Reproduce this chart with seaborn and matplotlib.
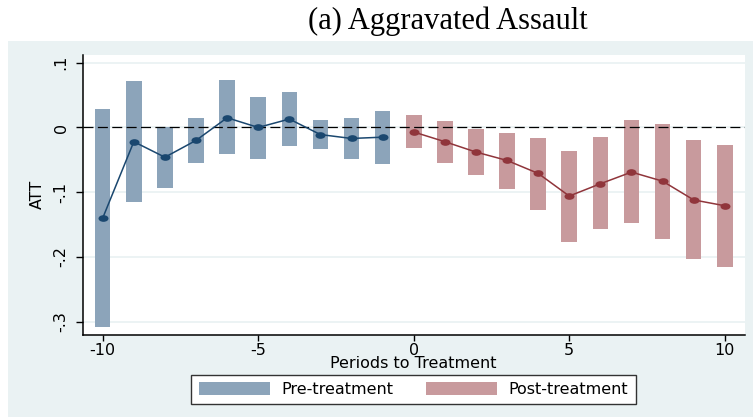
import numpy as np
import pandas as pd
import matplotlib
matplotlib.use("Agg")
import matplotlib.pyplot as plt
from matplotlib.path import Path
from matplotlib.patches import Rectangle, Patch
import seaborn as sns

# Event-study estimates (ATT) with 95% confidence bounds
pre_periods = [-10, -9, -8, -7, -6, -5, -4, -3, -2, -1]
pre_att = [-0.140, -0.022, -0.046, -0.020, 0.015, 0.000, 0.013, -0.011, -0.017, -0.015]
pre_lo = [-0.308, -0.115, -0.094, -0.055, -0.041, -0.049, -0.029, -0.034, -0.049, -0.056]
pre_hi = [0.028, 0.072, 0.000, 0.014, 0.073, 0.047, 0.055, 0.011, 0.014, 0.025]

post_periods = [0, 1, 2, 3, 4, 5, 6, 7, 8, 9, 10]
post_att = [-0.007, -0.022, -0.038, -0.051, -0.071, -0.106, -0.087, -0.069, -0.083, -0.112, -0.121]
post_lo = [-0.032, -0.055, -0.073, -0.095, -0.127, -0.177, -0.157, -0.147, -0.172, -0.203, -0.215]
post_hi = [0.019, 0.010, -0.003, -0.009, -0.017, -0.037, -0.015, 0.011, 0.005, -0.020, -0.027]

x_ticks = [-10, -5, 0, 5, 10]
x_tick_labels = ["-10", "-5", "0", "5", "10"]
y_ticks = [0.1, 0.0, -0.1, -0.2, -0.3]
y_tick_labels = [".1", "0", "-.1", "-.2", "-.3"]

title = "(a) Aggravated Assault"
x_label = "Periods to Treatment"
y_label = "ATT"
legend_labels = ["Pre-treatment", "Post-treatment"]

NAVY = "#1A476F"
MAROON = "#90353B"
NAVY_CI = "#8CA4BA"
MAROON_CI = "#C89A9D"
PANEL_BG = "#EAF2F3"
FS = 11.5

pre = pd.DataFrame({"period": pre_periods, "att": pre_att, "lo": pre_lo, "hi": pre_hi})
post = pd.DataFrame({"period": post_periods, "att": post_att, "lo": post_lo, "hi": post_hi})

sns.set_theme(style="white")
plt.rcParams["font.family"] = ["DejaVu Sans"]
plt.rcParams["axes.unicode_minus"] = False

W, H = 753, 417
fig = plt.figure(figsize=(W / 100, H / 100), dpi=100, facecolor="white")

# light panel behind the graph region
fig.patches.append(Rectangle((8 / W, 0), 1 - 8 / W, 1 - 41 / H, transform=fig.transFigure,
                             facecolor=PANEL_BG, edgecolor="none", zorder=-5))

left, right, top, bottom = 82.5, 745, 55, 334.5
ax = fig.add_axes([left / W, 1 - bottom / H, (right - left) / W, (bottom - top) / H])
ax.set_zorder(1)
ax.set_facecolor("white")

# confidence-interval bars
ax.bar(pre["period"], pre["hi"] - pre["lo"], bottom=pre["lo"], width=0.5,
       color=NAVY_CI, edgecolor="none", zorder=2)
ax.bar(post["period"], post["hi"] - post["lo"], bottom=post["lo"], width=0.5,
       color=MAROON_CI, edgecolor="none", zorder=2)

ax.axhline(0, color="black", lw=0.9, dashes=(8, 3.5), zorder=3)

# slightly wide oval marker
circ = Path.unit_circle()
oval = Path(circ.vertices * np.array([1.5, 1.0]), circ.codes)

sns.lineplot(data=pre, x="period", y="att", ax=ax, color=NAVY, lw=1.1,
             marker=oval, markersize=7.2, markeredgewidth=0, markerfacecolor=NAVY,
             zorder=4, legend=False)
sns.lineplot(data=post, x="period", y="att", ax=ax, color=MAROON, lw=1.1,
             marker=oval, markersize=7.2, markeredgewidth=0, markerfacecolor=MAROON,
             zorder=4, legend=False)

ax.set_xlim(-10.65, 10.65)
ax.set_ylim(-0.32, 0.112)
ax.set_xticks(x_ticks)
ax.set_xticklabels(x_tick_labels)
ax.set_yticks(y_ticks)
ax.set_yticklabels(y_tick_labels, rotation=90, va="center")

ax.yaxis.grid(True, color=PANEL_BG, lw=1.3)
ax.xaxis.grid(False)
ax.set_axisbelow(True)

for s in ["top", "right"]:
    ax.spines[s].set_visible(False)
for s in ["left", "bottom"]:
    ax.spines[s].set_color("black")
    ax.spines[s].set_linewidth(1.1)

ax.tick_params(axis="x", which="major", direction="out", length=4.5, width=1,
               color="black", pad=1.5, labelsize=FS, labelcolor="black")
ax.tick_params(axis="y", which="major", direction="out", length=5, width=1,
               color="black", pad=5, labelsize=FS, labelcolor="black")
ax.tick_params(bottom=True, left=True)

ax.set_xlabel(x_label, fontsize=FS, color="black", labelpad=-1)
ax.set_ylabel(y_label, fontsize=FS, color="black", labelpad=6)

handles = [Patch(facecolor=NAVY_CI, edgecolor="none"),
           Patch(facecolor=MAROON_CI, edgecolor="none")]
leg = fig.legend(handles, legend_labels, loc="center", ncol=2,
                 bbox_to_anchor=(413.5 / W, 1 - 389.7 / H), bbox_transform=fig.transFigure,
                 frameon=True, fancybox=False, framealpha=1,
                 prop={"family": "DejaVu Sans", "size": FS},
                 handlelength=4.45, handleheight=0.85, handletextpad=0.75,
                 columnspacing=2.0, borderpad=0.45, borderaxespad=0)
leg.get_frame().set_edgecolor("#333333")
leg.get_frame().set_linewidth(1.0)
leg.get_frame().set_facecolor("white")
for t in leg.get_texts():
    t.set_color("black")

fig.text(448 / W, 1 - 29.3 / H, title, ha="center", va="baseline",
         family=["Liberation Serif", "DejaVu Serif"], fontsize=22, color="black")

fig.savefig("out.png", dpi=100, facecolor="white")
